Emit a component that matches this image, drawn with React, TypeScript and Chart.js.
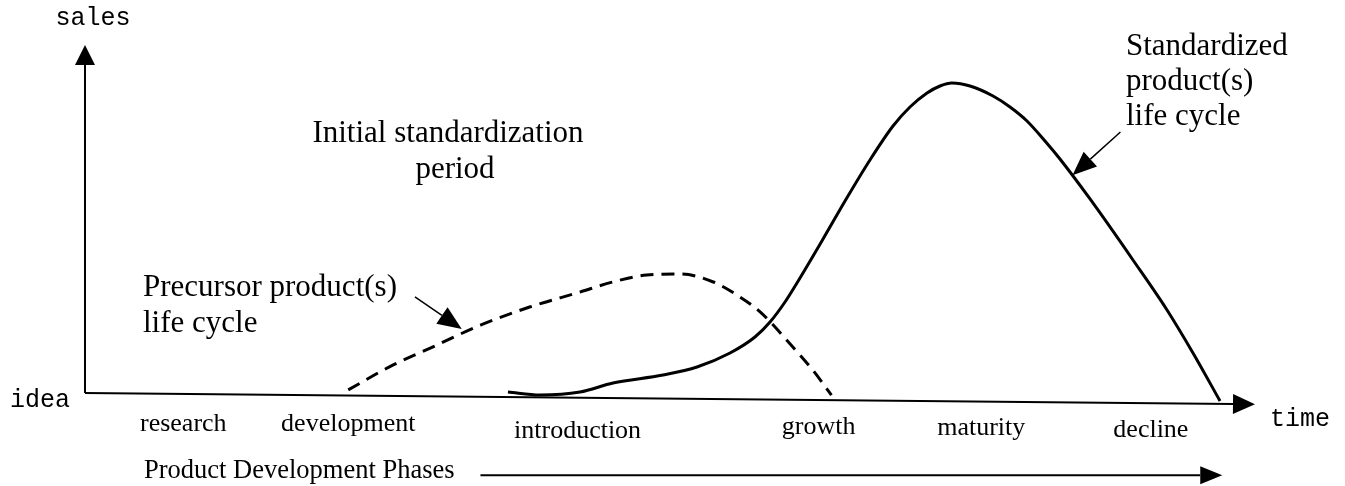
import React, { useEffect, useRef } from "react";
import { Chart, registerables } from "chart.js";

Chart.register(...registerables);

// Data in "time" (0..100) and "sales" (0..100) units
const precursorTime = [22.5, 26.3, 29.7, 33.8, 38.0, 42.3, 45.1, 48.0, 50.9, 53.7, 55.7, 57.7, 60.5, 62.2, 63.8];
const precursorSales = [0.9, 8.0, 13.2, 19.5, 24.7, 29.0, 31.9, 33.9, 34.2, 31.9, 28.2, 23.3, 13.2, 6.6, -0.6];

const standardTime = [36.15, 38.89, 42.31, 45.13, 49.4, 52.31, 55.13, 57.26, 58.55, 59.83, 60.85, 63.08, 64.96, 67.09, 69.06, 70.51, 71.97, 73.08, 74.1, 75.64, 77.61, 79.06, 80.51, 82.05, 83.33, 85.9, 89.57, 92.48, 94.7, 97.01];
const standardSales = [0.29, -0.57, 0.29, 2.87, 5.17, 7.47, 11.49, 16.09, 20.4, 26.15, 31.61, 44.25, 55.17, 66.95, 76.72, 82.18, 86.21, 88.22, 89.08, 88.22, 85.34, 82.18, 78.16, 72.41, 67.24, 55.75, 38.22, 23.85, 11.49, -2.3];

const phaseLabels = ["research", "development", "introduction", "growth", "maturity", "decline"];
const phaseTimes = [8.4, 22.5, 42.1, 62.7, 76.6, 91.1];

const SERIF = '"Liberation Serif", "Times New Roman", serif';
const MONO = '"Liberation Mono", "Courier New", monospace';

function arrow(ctx: CanvasRenderingContext2D, x1: number, y1: number, x2: number, y2: number, headLen: number, headW: number, lw: number) {
  const ang = Math.atan2(y2 - y1, x2 - x1);
  const bx = x2 - headLen * Math.cos(ang);
  const by = y2 - headLen * Math.sin(ang);
  ctx.save();
  ctx.strokeStyle = "#000";
  ctx.fillStyle = "#000";
  ctx.lineWidth = lw;
  ctx.beginPath();
  ctx.moveTo(x1, y1);
  ctx.lineTo(bx, by);
  ctx.stroke();
  ctx.beginPath();
  ctx.moveTo(x2, y2);
  ctx.lineTo(bx + (headW / 2) * Math.sin(ang), by - (headW / 2) * Math.cos(ang));
  ctx.lineTo(bx - (headW / 2) * Math.sin(ang), by + (headW / 2) * Math.cos(ang));
  ctx.closePath();
  ctx.fill();
  ctx.restore();
}

const diagramPlugin = {
  id: "diagram",
  beforeDatasetsDraw(chart: any) {
    const { ctx } = chart;
    const xs = chart.scales.x;
    const ys = chart.scales.y;
    const X = (v: number) => xs.getPixelForValue(v);
    const Y = (v: number) => ys.getPixelForValue(v);
    // y axis
    arrow(ctx, X(0), Y(0), X(0), Y(100), 20, 20, 2);
    // x axis (slightly tilted in the original)
    arrow(ctx, X(0), Y(0), X(100), Y(-3.2), 22, 20, 2);
  },
  afterDatasetsDraw(chart: any) {
    const { ctx } = chart;
    const xs = chart.scales.x;
    const ys = chart.scales.y;
    const X = (v: number) => xs.getPixelForValue(v);
    const Y = (v: number) => ys.getPixelForValue(v);
    ctx.save();
    ctx.fillStyle = "#000";
    ctx.textBaseline = "alphabetic";

    // axis end labels
    ctx.font = `25px ${MONO}`;
    ctx.textAlign = "center";
    ctx.fillText("sales", X(0) + 8, 25);
    ctx.textAlign = "left";
    ctx.fillText("idea", 10, 407);
    ctx.fillText("time", 1270, 426);

    // phase labels
    ctx.font = `26px ${SERIF}`;
    ctx.textAlign = "center";
    const phaseBase = [431, 431, 438, 434, 435, 437];
    phaseLabels.forEach((lab, i) => {
      ctx.fillText(lab, X(phaseTimes[i]), phaseBase[i]);
    });
    ctx.textAlign = "left";
    ctx.font = `26.5px ${SERIF}`;
    ctx.fillText("Product Development Phases", 144, 478);
    arrow(ctx, X(33.8), Y(-23.6), X(97.2), Y(-23.6), 22, 18, 2);

    // annotations
    ctx.font = `31px ${SERIF}`;
    ctx.textAlign = "center";
    ctx.fillText("Initial standardization", 448, 142);
    ctx.fillText("period", 455, 178);
    ctx.textAlign = "left";
    ctx.fillText("Precursor product(s)", 143, 296);
    ctx.fillText("life cycle", 143, 332);
    ctx.fillText("Standardized", 1126, 55);
    ctx.fillText("product(s)", 1126, 90);
    ctx.fillText("life cycle", 1126, 125);
    ctx.restore();

    arrow(ctx, X(28.2), Y(27.6), X(32.2), Y(18.4), 24, 20, 1.5);
    arrow(ctx, X(88.5), Y(75.0), X(84.4), Y(62.6), 24, 20, 1.5);
  },
};

export default function App() {
  const ref = useRef<HTMLCanvasElement>(null);
  useEffect(() => {
    if (!ref.current) return;
    const chart = new Chart(ref.current, {
      type: "line",
      data: {
        datasets: [
          {
            label: "Precursor product(s) life cycle",
            data: precursorTime.map((t, i) => ({ x: t, y: precursorSales[i] })),
            borderColor: "#000",
            borderWidth: 3,
            borderDash: [13, 8],
            pointRadius: 0,
            cubicInterpolationMode: "monotone",
            fill: false,
            clip: false as any,
          },
          {
            label: "Standardized product(s) life cycle",
            data: standardTime.map((t, i) => ({ x: t, y: standardSales[i] })),
            borderColor: "#000",
            borderWidth: 3,
            pointRadius: 0,
            cubicInterpolationMode: "monotone",
            fill: false,
            clip: false as any,
          },
        ],
      },
      options: {
        animation: false,
        responsive: false,
        maintainAspectRatio: false,
        layout: { padding: { left: 85, right: 90, top: 45, bottom: 93 } },
        plugins: { legend: { display: false }, tooltip: { enabled: false }, title: { display: false } },
        scales: {
          x: { type: "linear", min: 0, max: 100, display: false },
          y: { type: "linear", min: 0, max: 100, display: false },
        },
      },
      plugins: [diagramPlugin],
    });
    return () => chart.destroy();
  }, []);
  return (
    <div style={{ position: "fixed", left: 0, top: 0, width: 1345, height: 486, background: "#fff" }}>
      <canvas ref={ref} width={1345} height={486} style={{ width: 1345, height: 486, display: "block" }} />
    </div>
  );
}
